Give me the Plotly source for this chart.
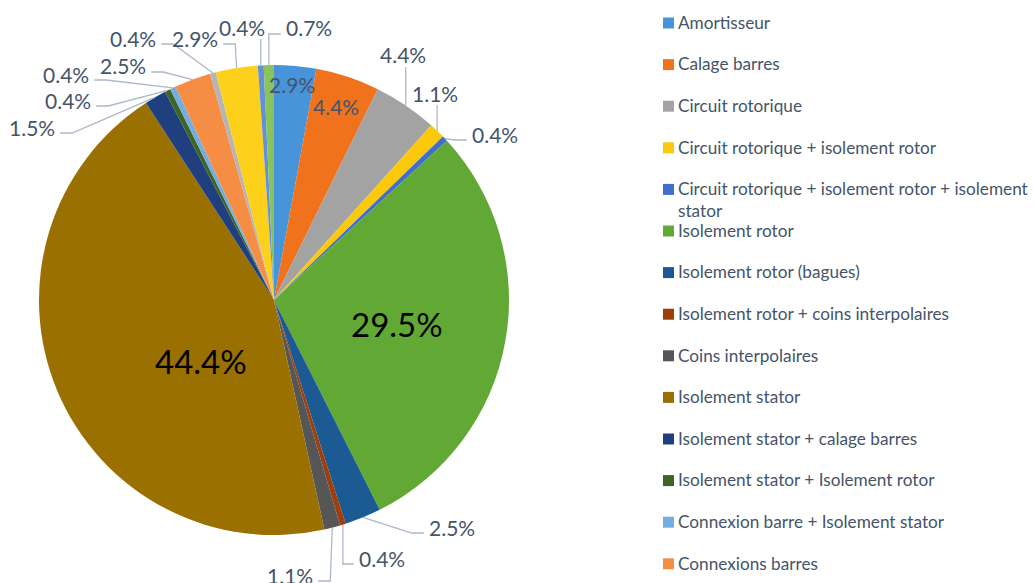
import math
import plotly.graph_objects as go

# Failure categories and their share of cases (%), in clockwise order from 12 o'clock
categories = [
    "Amortisseur",
    "Calage barres",
    "Circuit rotorique",
    "Circuit rotorique + isolement rotor",
    "Circuit rotorique + isolement rotor + isolement stator",
    "Isolement rotor",
    "Isolement rotor (bagues)",
    "Isolement rotor + coins interpolaires",
    "Coins interpolaires",
    "Isolement stator",
    "Isolement stator + calage barres",
    "Isolement stator + Isolement rotor",
    "Connexion barre + Isolement stator",
    "Connexions barres",
    "Têtes de bobines",
    "Pôles",
    "Paliers",
    "Excitatrice",
]
shares = [2.9, 4.4, 4.4, 1.1, 0.4, 29.5, 2.5, 0.4, 1.1, 44.4,
          1.5, 0.4, 0.4, 2.5, 0.4, 2.9, 0.4, 0.7]
colors = [
    "#4794DA", "#F0721C", "#A3A3A3", "#FCC80C", "#3F6FCB", "#62A835",
    "#1B5A93", "#9E3E0B", "#565656", "#9A7000", "#1F3F7E", "#3F6526",
    "#73AEE2", "#F68D44", "#B5B5B5", "#FDD11B", "#6290D9", "#89C35E",
]

W, H = 1033, 583
CX, CY, R = 274, 300, 235
SLATE = "#44546A"
LEADER = "#ABB8C9"
FONT = "Lato"


def fx(x):
    return x / W


def fy(y):
    return 1 - y / H


total = sum(shares)


def rim_point(i):
    """Point on the pie rim at the middle of slice i (clockwise from top)."""
    mid = sum(shares[:i]) + shares[i] / 2
    theta = mid / total * 2 * math.pi
    return CX + R * math.sin(theta), CY - R * math.cos(theta)


fig = go.Figure(
    go.Pie(
        labels=categories,
        values=shares,
        sort=False,
        direction="clockwise",
        rotation=0,
        textinfo="none",
        marker=dict(colors=colors, line=dict(width=0)),
        domain=dict(x=[fx(CX - R), fx(CX + R)], y=[fy(CY + R), fy(CY - R)]),
        hovertemplate="%{label}<br>%{value}%<extra></extra>",
        showlegend=False,
    )
)

annotations = []
shapes = []

# Labels drawn inside their slices: index -> (x, y, font size, colour)
inside_labels = {
    0: (292, 84, 21, SLATE),
    1: (336, 107, 21, SLATE),
    5: (397, 324, 33, "#000000"),
    9: (201, 361, 33, "#000000"),
}
for i, (x, y, fs, col) in inside_labels.items():
    annotations.append(dict(
        x=fx(x), y=fy(y), xref="paper", yref="paper", showarrow=False,
        text=f"{shares[i]}%", font=dict(family=FONT, size=fs, color=col),
        xanchor="center", yanchor="middle",
    ))

# Labels placed outside the pie with leader lines:
# index -> (attach side, label x, leader y for side labels / label y for bottom)
outside_labels = {
    2: ("bottom", 403, 55),
    3: ("bottom", 435, 93),
    4: ("left", 495, 140),
    6: ("left", 452, 533),
    7: ("left", 382, 564),
    8: ("right", 290, 581),
    10: ("right", 32, 133),
    11: ("right", 68, 106),
    12: ("right", 66, 80),
    13: ("right", 123, 72),
    14: ("right", 133, 44),
    15: ("right", 195, 44),
    16: ("bottom", 242, 27),
    17: ("left", 309, 34),
}
OUT_FS = 21
for i, (side, x, y) in outside_labels.items():
    txt = f"{shares[i]}%"
    ty = y if side == "bottom" else y - 6
    annotations.append(dict(
        x=fx(x), y=fy(ty), xref="paper", yref="paper", showarrow=False,
        text=txt, font=dict(family=FONT, size=OUT_FS, color=SLATE),
        xanchor="center", yanchor="middle",
    ))
    ax, ay = rim_point(i)
    half_w = 0.5 * OUT_FS * (0.58 * (len(txt) - 2) + 0.25 + 0.8)
    if side == "bottom":
        pts = [(ax, y + 12), (ax, ay)]
    else:
        sx = x - half_w - 5 if side == "left" else x + half_w + 5
        stub = min(12, abs(sx - ax))
        ex = sx - stub if side == "left" else sx + stub
        pts = [(sx, y), (ex, y), (ax, ay)]
    path = "M " + " L ".join(f"{fx(px):.5f},{fy(py):.5f}" for px, py in pts)
    shapes.append(dict(type="path", path=path, xref="paper", yref="paper",
                       line=dict(color=LEADER, width=1.3)))

# Legend drawn as coloured squares with text, one slot per category
LEG_X, LEG_Y0, LEG_STEP, LEG_FS = 663, 23, 41.6, 17.2
wrapped = {4: "Circuit rotorique + isolement rotor + isolement<br>stator"}
for i, name in enumerate(categories):
    yc = LEG_Y0 + LEG_STEP * i
    if yc > H:
        break
    shapes.append(dict(
        type="rect", xref="paper", yref="paper",
        x0=fx(LEG_X), x1=fx(LEG_X + 11), y0=fy(yc + 5.5), y1=fy(yc - 5.5),
        fillcolor=colors[i], line=dict(width=0),
    ))
    annotations.append(dict(
        x=fx(LEG_X + 13), y=fy(yc - LEG_FS * 0.65 - 2), xref="paper", yref="paper",
        showarrow=False, text=wrapped.get(i, name), align="left",
        font=dict(family=FONT, size=LEG_FS, color=SLATE),
        xanchor="left", yanchor="top",
    ))

fig.update_layout(
    width=W, height=H,
    margin=dict(l=0, r=0, t=0, b=0),
    paper_bgcolor="white", plot_bgcolor="white",
    showlegend=False,
    annotations=annotations,
    shapes=shapes,
)

fig.write_html("out.html")
